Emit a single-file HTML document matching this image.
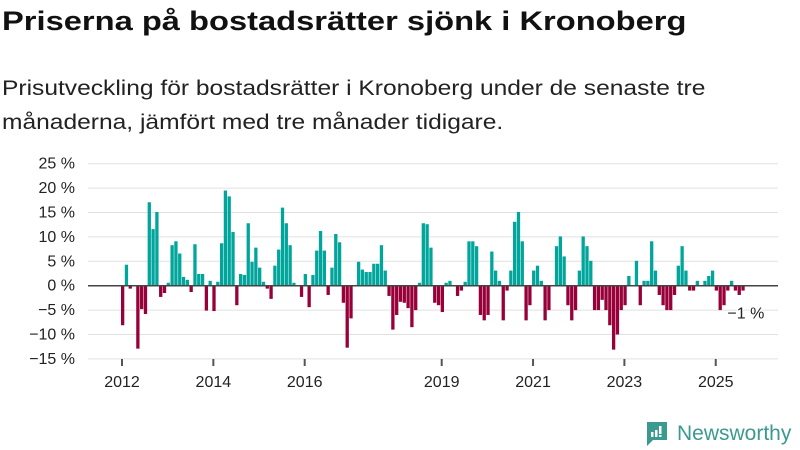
<!DOCTYPE html>
<html><head><meta charset="utf-8">
<style>
body{margin:0;background:#fff;width:800px;height:450px;overflow:hidden;font-family:"Liberation Sans",sans-serif;}
#title{position:absolute;left:2px;top:6px;font-size:27px;font-weight:bold;color:#111;margin:0;transform:scaleX(1.21);transform-origin:0 0;white-space:nowrap}
#sub{position:absolute;left:2px;top:72px;font-size:21px;line-height:34px;color:#222;white-space:nowrap;transform:scaleX(1.17);transform-origin:0 0}
svg{position:absolute;left:0;top:0}
</style></head><body>
<h1 id="title">Priserna på bostadsrätter sjönk i Kronoberg</h1>
<div id="sub">Prisutveckling för bostadsrätter i Kronoberg under de senaste tre<br>månaderna, jämfört med tre månader tidigare.</div>
<svg id="chart" width="800" height="450"></svg>
<script>
const values=[-8.1,4.3,-0.6,0,-12.9,-4.8,-5.8,17.1,11.6,15.1,-2.3,-1.5,0.6,8.3,9.1,6.6,1.8,1.2,-1.3,8.5,2.4,2.4,-5.1,1.0,-5.2,0.8,8.7,19.5,18.3,11.0,-4.0,2.4,2.2,12.8,4.9,7.8,3.7,0.8,-0.6,-2.7,4.1,7.4,16.0,12.8,8.3,0.6,0,-2.3,2.4,-4.4,2.2,7.2,11.2,7.2,-1.9,3.7,10.6,8.9,-3.5,-12.7,-6.7,0,4.9,3.3,2.8,2.8,4.5,4.5,8.3,3.1,-2.1,-9.0,-6.0,-3.3,-3.5,-4.6,-8.5,-5.0,0.6,12.8,12.6,7.8,-3.5,-4.0,-5.4,0.6,1.0,0,-2.1,-1.0,0.8,9.1,9.1,8.1,-6.0,-7.1,-6.0,7.0,3.1,1.0,-7.1,-1.0,3.1,13.1,15.1,9.1,-7.1,-4.0,3.1,4.1,1.0,-7.1,-5.0,0,8.1,10.1,6.0,-4.0,-7.1,-5.0,3.1,10.1,8.1,5.1,-5.0,-5.0,-2.9,-5.0,-8.1,-13.1,-10.0,-5.0,-4.0,2.0,0,5.1,-4.0,1.0,1.0,9.1,3.1,-1.9,-4.0,-5.0,-5.0,-1.9,4.1,8.1,3.1,-1.0,-1.0,1.0,0,1.0,2.0,3.1,-1.0,-5.0,-4.0,-1.0,1.0,-1.0,-1.9,-1.0];
const yTicks=[25,20,15,10,5,0,-5,-10,-15];
const xTickYears=[2012,2014,2016,2019,2021,2023,2025];
const startYear=2012;
const lastLabel="−1 %";
const NS="http://www.w3.org/2000/svg";
const svg=document.getElementById('chart');
function y(v){return 285.7-v*4.88;}
function x(m){return 121+m*3.806;}
function mk(t,a){const e=document.createElementNS(NS,t);for(const k in a)e.setAttribute(k,a[k]);svg.appendChild(e);return e;}
yTicks.forEach(v=>{
 if(v!==0){const g=mk('line',{x1:88,x2:778,y1:y(v),y2:y(v),stroke:'#e0e0e0','stroke-width':1});
 
 }
 const t=mk('text',{x:75,y:y(v)+5,'text-anchor':'end','font-size':16,fill:'#222'});
 t.textContent=(v<0?'−'+(-v):v)+' %';
 
 
});
values.forEach((v,i)=>{
 if(v===0)return;
 const r=mk('rect',{x:x(i),width:3.3,y:v>0?y(v):y(0),height:Math.abs(y(v)-y(0)),fill:v>0?'#00a69c':'#970038'});
 
 
});
const z=mk('line',{x1:88,x2:778,y1:y(0),y2:y(0),stroke:'#444','stroke-width':1.5});


xTickYears.forEach(yr=>{
 const m=(yr-startYear)*12;
 const tk=mk('line',{x1:x(m)+1,x2:x(m)+1,y1:359,y2:366,stroke:'#555','stroke-width':2});
 
 
 const t=mk('text',{x:x(m)+1,y:387,'text-anchor':'middle','font-size':16,fill:'#222'});
 t.textContent=yr;
 
 
});
const li=values.length-1;
const lb=mk('text',{x:x(li)-14,y:y(values[li])+28,'font-size':16,fill:'#222',stroke:'#fff','stroke-width':3,'paint-order':'stroke'});
lb.textContent=lastLabel;


</script>
<div style="position:absolute;left:645px;top:420px;display:flex;align-items:center;">
<svg width="24" height="28" viewBox="0 0 24 28" style="position:static"><path d="M2 2h20v18H8l-6 6z" fill="#3a9a8f"/><rect x="6" y="12" width="2.5" height="5" fill="#fff"/><rect x="10" y="10" width="2.5" height="7" fill="#fff"/><rect x="14" y="6" width="2.5" height="8" fill="#fff"/><rect x="14" y="15" width="2.5" height="2" fill="#fff"/></svg>
<span style="font-size:21px;color:#3a9a8f;margin-left:8px;">Newsworthy</span></div>
</body></html>
